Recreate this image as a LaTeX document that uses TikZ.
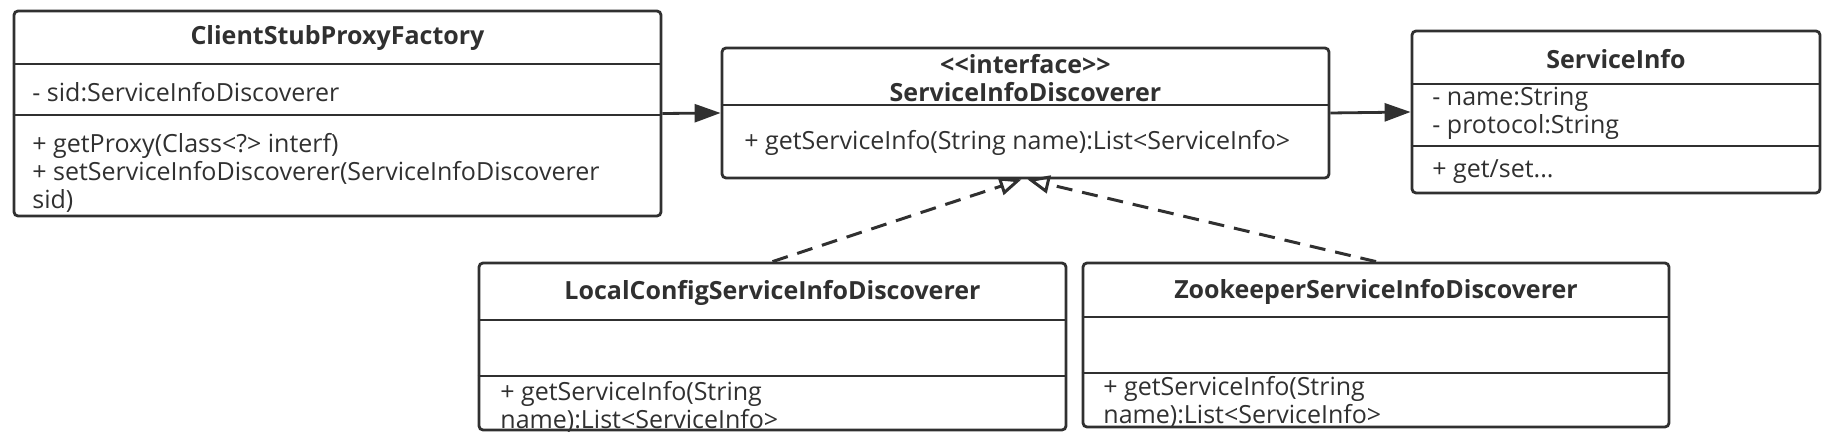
\documentclass[tikz,border=0pt]{standalone}
\usepackage{fontspec}
\setmainfont{Open Sans}
\usetikzlibrary{arrows.meta,fit}
\definecolor{umlgray}{HTML}{303030}

\begin{document}
\begin{tikzpicture}[x=0.5pt,y=-0.5pt,
  classbox/.style={draw=umlgray,line width=1.4pt,rounded corners=2pt,inner sep=0pt},
  sep/.style={draw=umlgray,line width=1.4pt},
  title/.style={font=\bfseries\fontsize{12.5}{13.75}\selectfont,text=umlgray,align=center,inner sep=0pt},
  member/.style={font=\fontsize{12.5}{14}\selectfont,text=umlgray,align=left,anchor=west,inner sep=0pt},
  assoc/.style={draw=umlgray,line width=1.4pt,-{Triangle[length=13pt,width=9pt]}},
  realize/.style={draw=umlgray,line width=1.5pt,dash pattern=on 8pt off 5pt,-{Triangle[open,length=11pt,width=9pt]}}]

% Frame
\useasboundingbox (0,0) rectangle (1828,437);

% ClientStubProxyFactory
\node[classbox,fit={(14,11) (661,216)}] (cs) {};
\draw[sep] (cs.west |- 0,64) -- (cs.east |- 0,64);
\draw[sep] (cs.west |- 0,115) -- (cs.east |- 0,115);
\node[title] (cs-name) at (cs.north |- 0,38) {ClientStubProxyFactory};
\node[member] (cs-attr) at (32,92) {- sid:ServiceInfoDiscoverer};
\node[member] (cs-ops) at (32,173) {+ getProxy(Class<?> interf)\\+ setServiceInfoDiscoverer(ServiceInfoDiscoverer\\sid)};

% ServiceInfoDiscoverer
\node[classbox,fit={(722,48) (1329,178)}] (sid) {};
\draw[sep] (sid.west |- 0,105) -- (sid.east |- 0,105);
\node[title] (sid-name) at (sid.north |- 0,78) {<{}<interface>{}>\\ServiceInfoDiscoverer};
\node[member] (sid-ops) at (744,143) {+ getServiceInfo(String name):List<ServiceInfo>};

% ServiceInfo
\node[classbox,fit={(1412,31) (1820,193)}] (si) {};
\draw[sep] (si.west |- 0,84) -- (si.east |- 0,84);
\draw[sep] (si.west |- 0,146) -- (si.east |- 0,146);
\node[title] (si-name) at (si.north |- 0,59) {ServiceInfo};
\node[member] (si-attr) at (1432,113) {- name:String\\- protocol:String};
\node[member] (si-ops) at (1432,172) {+ get/set...};

% LocalConfigServiceInfoDiscoverer
\node[classbox,fit={(479,263) (1066,430)}] (local) {};
\draw[sep] (local.west |- 0,320) -- (local.east |- 0,320);
\draw[sep] (local.west |- 0,376) -- (local.east |- 0,376);
\node[title] (local-name) at (local.north |- 0,293) {LocalConfigServiceInfoDiscoverer};
\node[member] (local-ops) at (500,407) {+ getServiceInfo(String\\name):List<ServiceInfo>};

% ZookeeperServiceInfoDiscoverer
\node[classbox,fit={(1083,263) (1669,427)}] (zk) {};
\draw[sep] (zk.west |- 0,317) -- (zk.east |- 0,317);
\draw[sep] (zk.west |- 0,373) -- (zk.east |- 0,373);
\node[title] (zk-name) at (zk.north |- 0,292) {ZookeeperServiceInfoDiscoverer};
\node[member] (zk-ops) at (1103,402) {+ getServiceInfo(String\\name):List<ServiceInfo>};

% Associations
\draw[assoc] (cs.east) -- (sid.west);
\draw[assoc] (sid.east) -- (si.west);

% Realizations
\draw[realize] (local.north) -- ([xshift=-2pt]sid.south);
\draw[realize] (zk.north) -- ([xshift=1pt]sid.south);

\end{tikzpicture}
\end{document}
